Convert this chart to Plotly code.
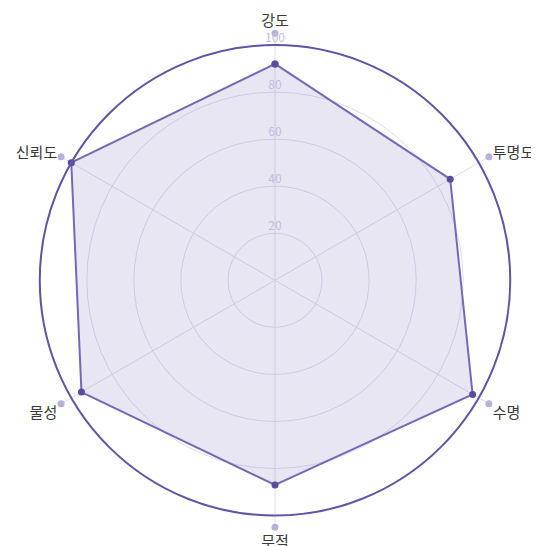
import plotly.graph_objects as go

categories = ["강도", "투명도", "수명", "무적", "물성", "신뢰도"]
values = [92, 86, 97, 87, 95, 100]
tick_vals = [20, 40, 60, 80, 100]
tick_text = ["20", "40", "60", "80", "100"]

W, H = 539, 546
PAGE_OFF = 8                 # browser body margin
CX, CY = 275 - PAGE_OFF, 280.3 - PAGE_OFF
R_OUT = 247                  # radius of outer (label anchor) ring, px
R_MAX = 105                  # radial value at outer ring
R_FRAME = 100                # radial value of dark frame circle

def dom(cx, cy, r):
    yb = H - cy
    return dict(x=[(cx - r) / W, (cx + r) / W], y=[(yb - r) / H, (yb + r) / H])

FONT = "Noto Sans CJK KR, Noto Sans, sans-serif"
grid_c = "#e0dcee"

fig = go.Figure()

# anchor dots at category label positions
fig.add_trace(go.Scatterpolar(
    r=[R_MAX] * len(categories), theta=categories, mode="markers",
    marker=dict(size=7, color="#b8b0d8"), cliponaxis=False,
    hoverinfo="skip", showlegend=False, subplot="polar"))

# data polygon
fig.add_trace(go.Scatterpolar(
    r=values + values[:1], theta=categories + categories[:1],
    mode="lines+markers", fill="toself",
    fillcolor="rgba(118,104,178,0.17)",
    line=dict(color="#7668b6", width=2),
    marker=dict(size=7, color="#5a4a9c"),
    showlegend=False, subplot="polar"))

# radial tick labels
fig.add_trace(go.Scatterpolar(
    r=tick_vals, theta=[categories[0]] * len(tick_vals), mode="text",
    text=tick_text, textposition="top center",
    textfont=dict(size=12, color="#c3bce0", family=FONT),
    cliponaxis=False, hoverinfo="skip", showlegend=False, subplot="polar"))

# invisible trace to materialise the frame subplot
fig.add_trace(go.Scatterpolar(
    r=values, theta=categories, mode="markers",
    marker=dict(size=1, color="rgba(0,0,0,0)"),
    hoverinfo="skip", showlegend=False, subplot="polar2"))

fig.update_layout(
    width=W, height=H,
    margin=dict(l=0, r=0, t=0, b=0),
    paper_bgcolor="white",
    font=dict(family=FONT),
    polar=dict(
        domain=dom(CX, CY, R_OUT),
        bgcolor="rgba(0,0,0,0)",
        radialaxis=dict(range=[0, R_MAX], tickvals=tick_vals, showticklabels=False,
                        showline=False, ticks="", gridcolor=grid_c, gridwidth=1, angle=90),
        angularaxis=dict(rotation=90, direction="clockwise", showline=False,
                         gridcolor=grid_c, gridwidth=1, ticks="outside", ticklen=1,
                         tickcolor="rgba(0,0,0,0)",
                         tickfont=dict(size=15, color="#3a3a3a", family=FONT),
                         categoryorder="array", categoryarray=categories),
    ),
    polar2=dict(
        domain=dom(CX, CY, R_OUT * R_FRAME / R_MAX),
        bgcolor="rgba(0,0,0,0)",
        radialaxis=dict(range=[0, R_FRAME], visible=False),
        angularaxis=dict(rotation=90, direction="clockwise", showline=True,
                         linecolor="#6253a6", linewidth=2, showgrid=False,
                         showticklabels=False, ticks="",
                         categoryorder="array", categoryarray=categories),
    ),
)

fig.write_html("out.html")
